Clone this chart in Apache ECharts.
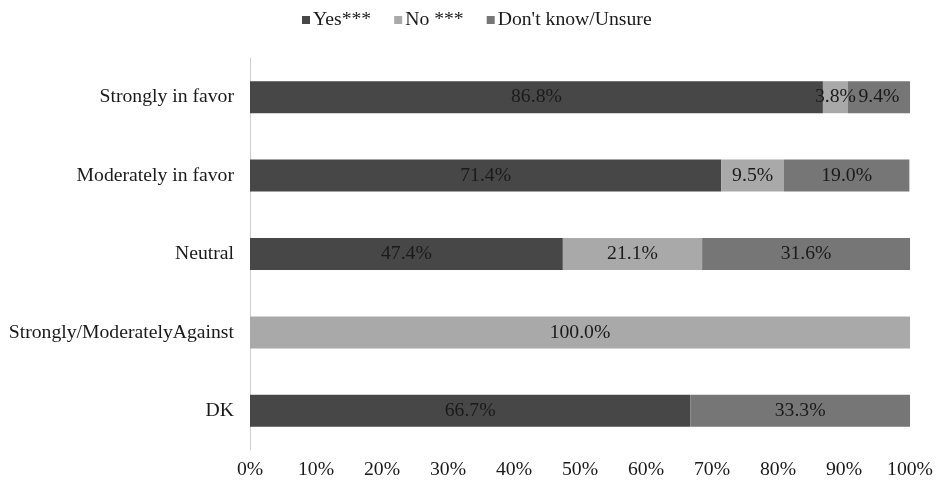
<!DOCTYPE html>
<html>
<head>
<meta charset="utf-8">
<script src="https://cdn.jsdelivr.net/npm/echarts@6/dist/echarts.min.js"></script>
<style>
  html, body { margin: 0; padding: 0; background: #fff; }
  #chart { width: 936px; height: 481px; }
</style>
</head>
<body>
<div id="chart"></div>
<script>
// Response groups, listed top to bottom
const categories = ['Strongly in favor', 'Moderately in favor', 'Neutral', 'Strongly/ModeratelyAgainst', 'DK'];
const seriesNames = ['Yes***', 'No ***', "Don't know/Unsure"];
const yesValues = [86.8, 71.4, 47.4, 0, 66.7];
const noValues = [3.8, 9.5, 21.1, 100.0, 0];
const dkValues = [9.4, 19.0, 31.6, 0, 33.3];
const colors = ['#474747', '#a9a9a9', '#767676'];

const FONT = '"Liberation Serif", "Times New Roman", serif';
const FS = 19.7;

function makeSeries(name, values, color) {
  return {
    name: name,
    type: 'bar',
    stack: 'total',
    barWidth: 32,
    data: values,
    itemStyle: { color: color },
    label: {
      show: true,
      position: 'inside',
      color: '#1a1a1a',
      fontFamily: FONT,
      fontSize: FS,
      formatter: p => (p.value > 0 ? p.value.toFixed(1) + '%' : '')
    }
  };
}

const chart = echarts.init(document.getElementById('chart'), null, { renderer: 'canvas' });
chart.setOption({
  animation: false,
  backgroundColor: '#fff',
  color: colors,
  textStyle: { fontFamily: FONT },
  legend: {
    top: 5,
    left: 297,
    itemWidth: 8,
    itemHeight: 8,
    itemGap: 23,
    icon: 'rect',
    textStyle: { fontFamily: FONT, fontSize: FS, color: '#1a1a1a', padding: [0, 0, 0, -2] },
    data: seriesNames
  },
  grid: { left: 250, right: 25, top: 58, bottom: 31, containLabel: false },
  xAxis: {
    type: 'value',
    min: 0,
    max: 100,
    interval: 10,
    axisLine: { show: false },
    axisTick: { show: false },
    splitLine: { show: false },
    axisLabel: {
      formatter: v => v + '%',
      fontFamily: FONT,
      fontSize: FS,
      color: '#1a1a1a',
      margin: 10
    }
  },
  yAxis: {
    type: 'category',
    inverse: true,
    data: categories,
    axisLine: { show: true, lineStyle: { color: '#cfcfcf', width: 1 } },
    axisTick: { show: false },
    axisLabel: {
      fontFamily: FONT,
      fontSize: FS,
      color: '#1a1a1a',
      margin: 16
    }
  },
  series: [
    makeSeries(seriesNames[0], yesValues, colors[0]),
    makeSeries(seriesNames[1], noValues, colors[1]),
    makeSeries(seriesNames[2], dkValues, colors[2])
  ]
});
</script>
</body>
</html>
